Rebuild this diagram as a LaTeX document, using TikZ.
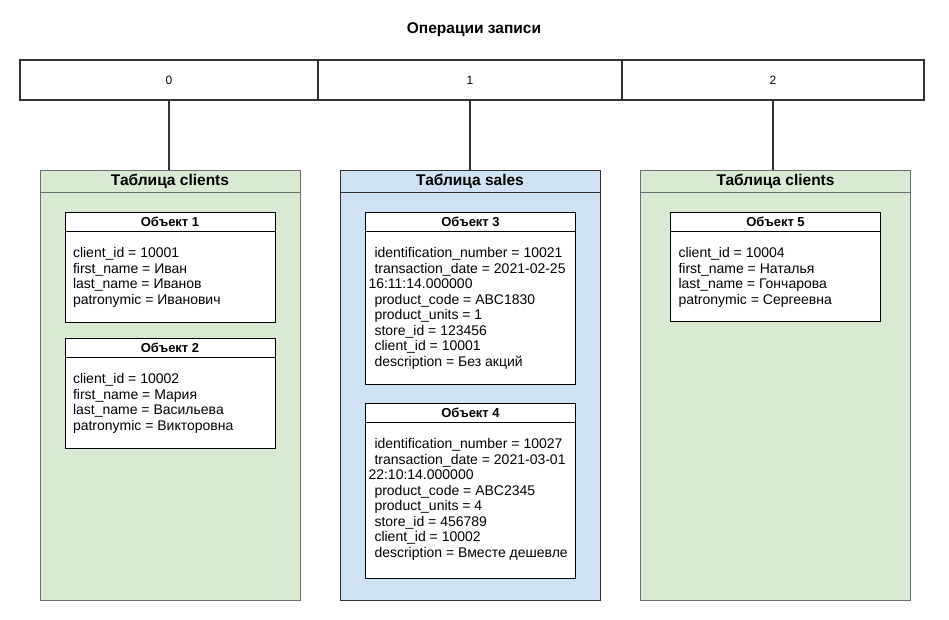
\documentclass[tikz,border=0pt]{standalone}
\usepackage{fontspec}
\setmainfont{Liberation Sans}
\usepackage{tikz}
\usetikzlibrary{positioning}
\definecolor{clientsfill}{HTML}{D9EAD3}
\definecolor{salesfill}{HTML}{CFE2F3}
\definecolor{framegray}{HTML}{6E6E6E}
\definecolor{linegray}{HTML}{333333}
\tikzset{font=\fontsize{12}{14}\selectfont}
\tikzset{
  cell/.style={draw=linegray,line width=1.2pt,minimum height=40pt,inner sep=0pt},
  link/.style={draw=linegray,line width=1.2pt},
  tabframe/.style={draw=framegray,line width=1pt,minimum height=430pt,anchor=north,inner sep=0pt},
  tabhead/.style={draw=framegray,line width=1pt,minimum height=22pt,anchor=north,inner sep=0pt,
    font=\fontsize{15.5}{17}\selectfont\bfseries},
  objhead/.style={draw,fill=white,minimum width=210pt,minimum height=19pt,anchor=north,inner sep=0pt,
    font=\fontsize{13}{15}\selectfont\bfseries},
  objbody/.style={draw,fill=white,minimum width=210pt,anchor=north,inner sep=0pt},
  objtext/.style={anchor=north west,inner sep=0pt,align=left,font=\fontsize{14}{15.5}\selectfont}
}
\newcommand{\ind}{\hspace*{6pt}}

\begin{document}
\begin{tikzpicture}[x=1pt,y=-1pt]
\useasboundingbox (0,0) rectangle (949,620);
\node[font=\fontsize{15.5}{18}\selectfont\bfseries] (title) at (474,30) {Операции записи};
% row of write operations
\node[cell,minimum width=298pt] (cell0) at (169,80) {0};
\node[cell,minimum width=304pt] (cell1) at (470,80) {1};
\node[cell,minimum width=302pt] (cell2) at (773,80) {2};
% tables
\node[tabframe,fill=clientsfill,minimum width=260pt] (tab0) at (170,170) {};
\node[tabhead,fill=clientsfill,minimum width=260pt] (head0) at (tab0.north) {Таблица clients};
\node[tabframe,fill=salesfill,draw=linegray,minimum width=260pt] (tab1) at (470,170) {};
\node[tabhead,fill=salesfill,draw=linegray,minimum width=260pt] (head1) at (tab1.north) {Таблица sales};
\node[tabframe,fill=clientsfill,minimum width=270pt] (tab2) at (775.5,170) {};
\node[tabhead,fill=clientsfill,minimum width=270pt] (head2) at (tab2.north) {Таблица clients};
\draw[link] (cell0.south) -- (cell0.south |- tab0.north);
\draw[link] (cell1.south) -- (cell1.south |- tab1.north);
\draw[link] (cell2.south) -- (cell2.south |- tab2.north);
% objects in clients
\node[objhead] (oh1) at (170,212) {Объект 1};
\node[objbody,minimum height=91pt] (ob1) at (oh1.south) {};
\node[objtext] (ot1) at ([xshift=8pt,yshift=-16pt]ob1.north west)
  {client\_id = 10001\\first\_name = Иван\\last\_name = Иванов\\patronymic = Иванович};
\node[objhead] (oh2) at (170,338) {Объект 2};
\node[objbody,minimum height=91pt] (ob2) at (oh2.south) {};
\node[objtext] (ot2) at ([xshift=8pt,yshift=-16pt]ob2.north west)
  {client\_id = 10002\\first\_name = Мария\\last\_name = Васильева\\patronymic = Викторовна};
% objects in sales
\node[objhead] (oh3) at (470.5,212) {Объект 3};
\node[objbody,minimum height=153pt] (ob3) at (oh3.south) {};
\node[objtext] (ot3) at ([xshift=3pt,yshift=-16pt]ob3.north west)
  {\ind identification\_number = 10021\\\ind transaction\_date = 2021-02-25\\16:11:14.000000\\
   \ind product\_code = ABC1830\\\ind product\_units = 1\\\ind store\_id = 123456\\
   \ind client\_id = 10001\\\ind description = Без акций};
\node[objhead] (oh4) at (470.5,403) {Объект 4};
\node[objbody,minimum height=156pt] (ob4) at (oh4.south) {};
\node[objtext] (ot4) at ([xshift=3pt,yshift=-16pt]ob4.north west)
  {\ind identification\_number = 10027\\\ind transaction\_date = 2021-03-01\\22:10:14.000000\\
   \ind product\_code = ABC2345\\\ind product\_units = 4\\\ind store\_id = 456789\\
   \ind client\_id = 10002\\\ind description = Вместе дешевле};
% object in second clients
\node[objhead] (oh5) at (775.5,212) {Объект 5};
\node[objbody,minimum height=90pt] (ob5) at (oh5.south) {};
\node[objtext] (ot5) at ([xshift=8pt,yshift=-16pt]ob5.north west)
  {client\_id = 10004\\first\_name = Наталья\\last\_name = Гончарова\\patronymic = Сергеевна};
\end{tikzpicture}
\end{document}
